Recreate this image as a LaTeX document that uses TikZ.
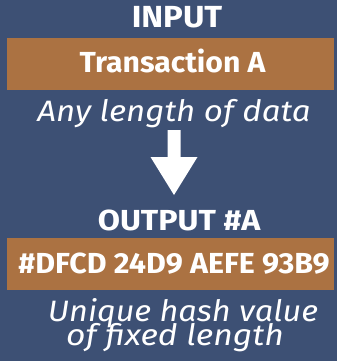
\documentclass[tikz,border=0pt]{standalone}
\usepackage{fontspec}
\setmainfont{Fira Sans}
\definecolor{bgblue}{RGB}{61,80,116}
\definecolor{barbrown}{RGB}{171,114,66}
\tikzset{
  txt/.style={text=white,inner sep=0pt,anchor=base},
  boldtxt/.style={txt,font=\bfseries\fontsize{29}{29}\selectfont},
  note/.style={txt,font=\itshape\fontsize{29.5}{29.5}\selectfont},
  bar/.style={fill=barbrown,draw=none}
}
\begin{document}
\begin{tikzpicture}[x=1pt,y=-1pt]
\fill[bgblue] (0,0) rectangle (337,361);
\useasboundingbox (0,0) rectangle (337,361);
\node[boldtxt,font=\bfseries\fontsize{30.5}{30.5}\selectfont] (in) at (177,28) {\scalebox{1.08}[1]{INPUT}};
\fill[bar] (7,38) rectangle (334,90);
\node[boldtxt] (ta) at (172.5,73) {\scalebox{1.04}[1]{Transaction A}};
\node[note] (any) at (174,121) {\scalebox{1.12}[1]{Any length of data}};
\fill[white] (167.5,130) -- (180.5,130) -- (180.5,157) -- (197.5,157) -- (174,195) -- (150.5,157) -- (167.5,157) -- cycle;
\node[boldtxt] (out) at (179,230) {\scalebox{1.11}[1]{OUTPUT \#A}};
\fill[bar] (7,238) rectangle (334,290);
\node[boldtxt] (hash) at (174,273) {\scalebox{1.05}[1]{\#DFCD 24D9 AEFE 93B9}};
\node[note] (u1) at (183,321) {\scalebox{1.1}[1]{Unique hash value}};
\node[note] (u2) at (175,345) {\scalebox{1.14}[1]{of fixed length}};
\end{tikzpicture}
\end{document}
